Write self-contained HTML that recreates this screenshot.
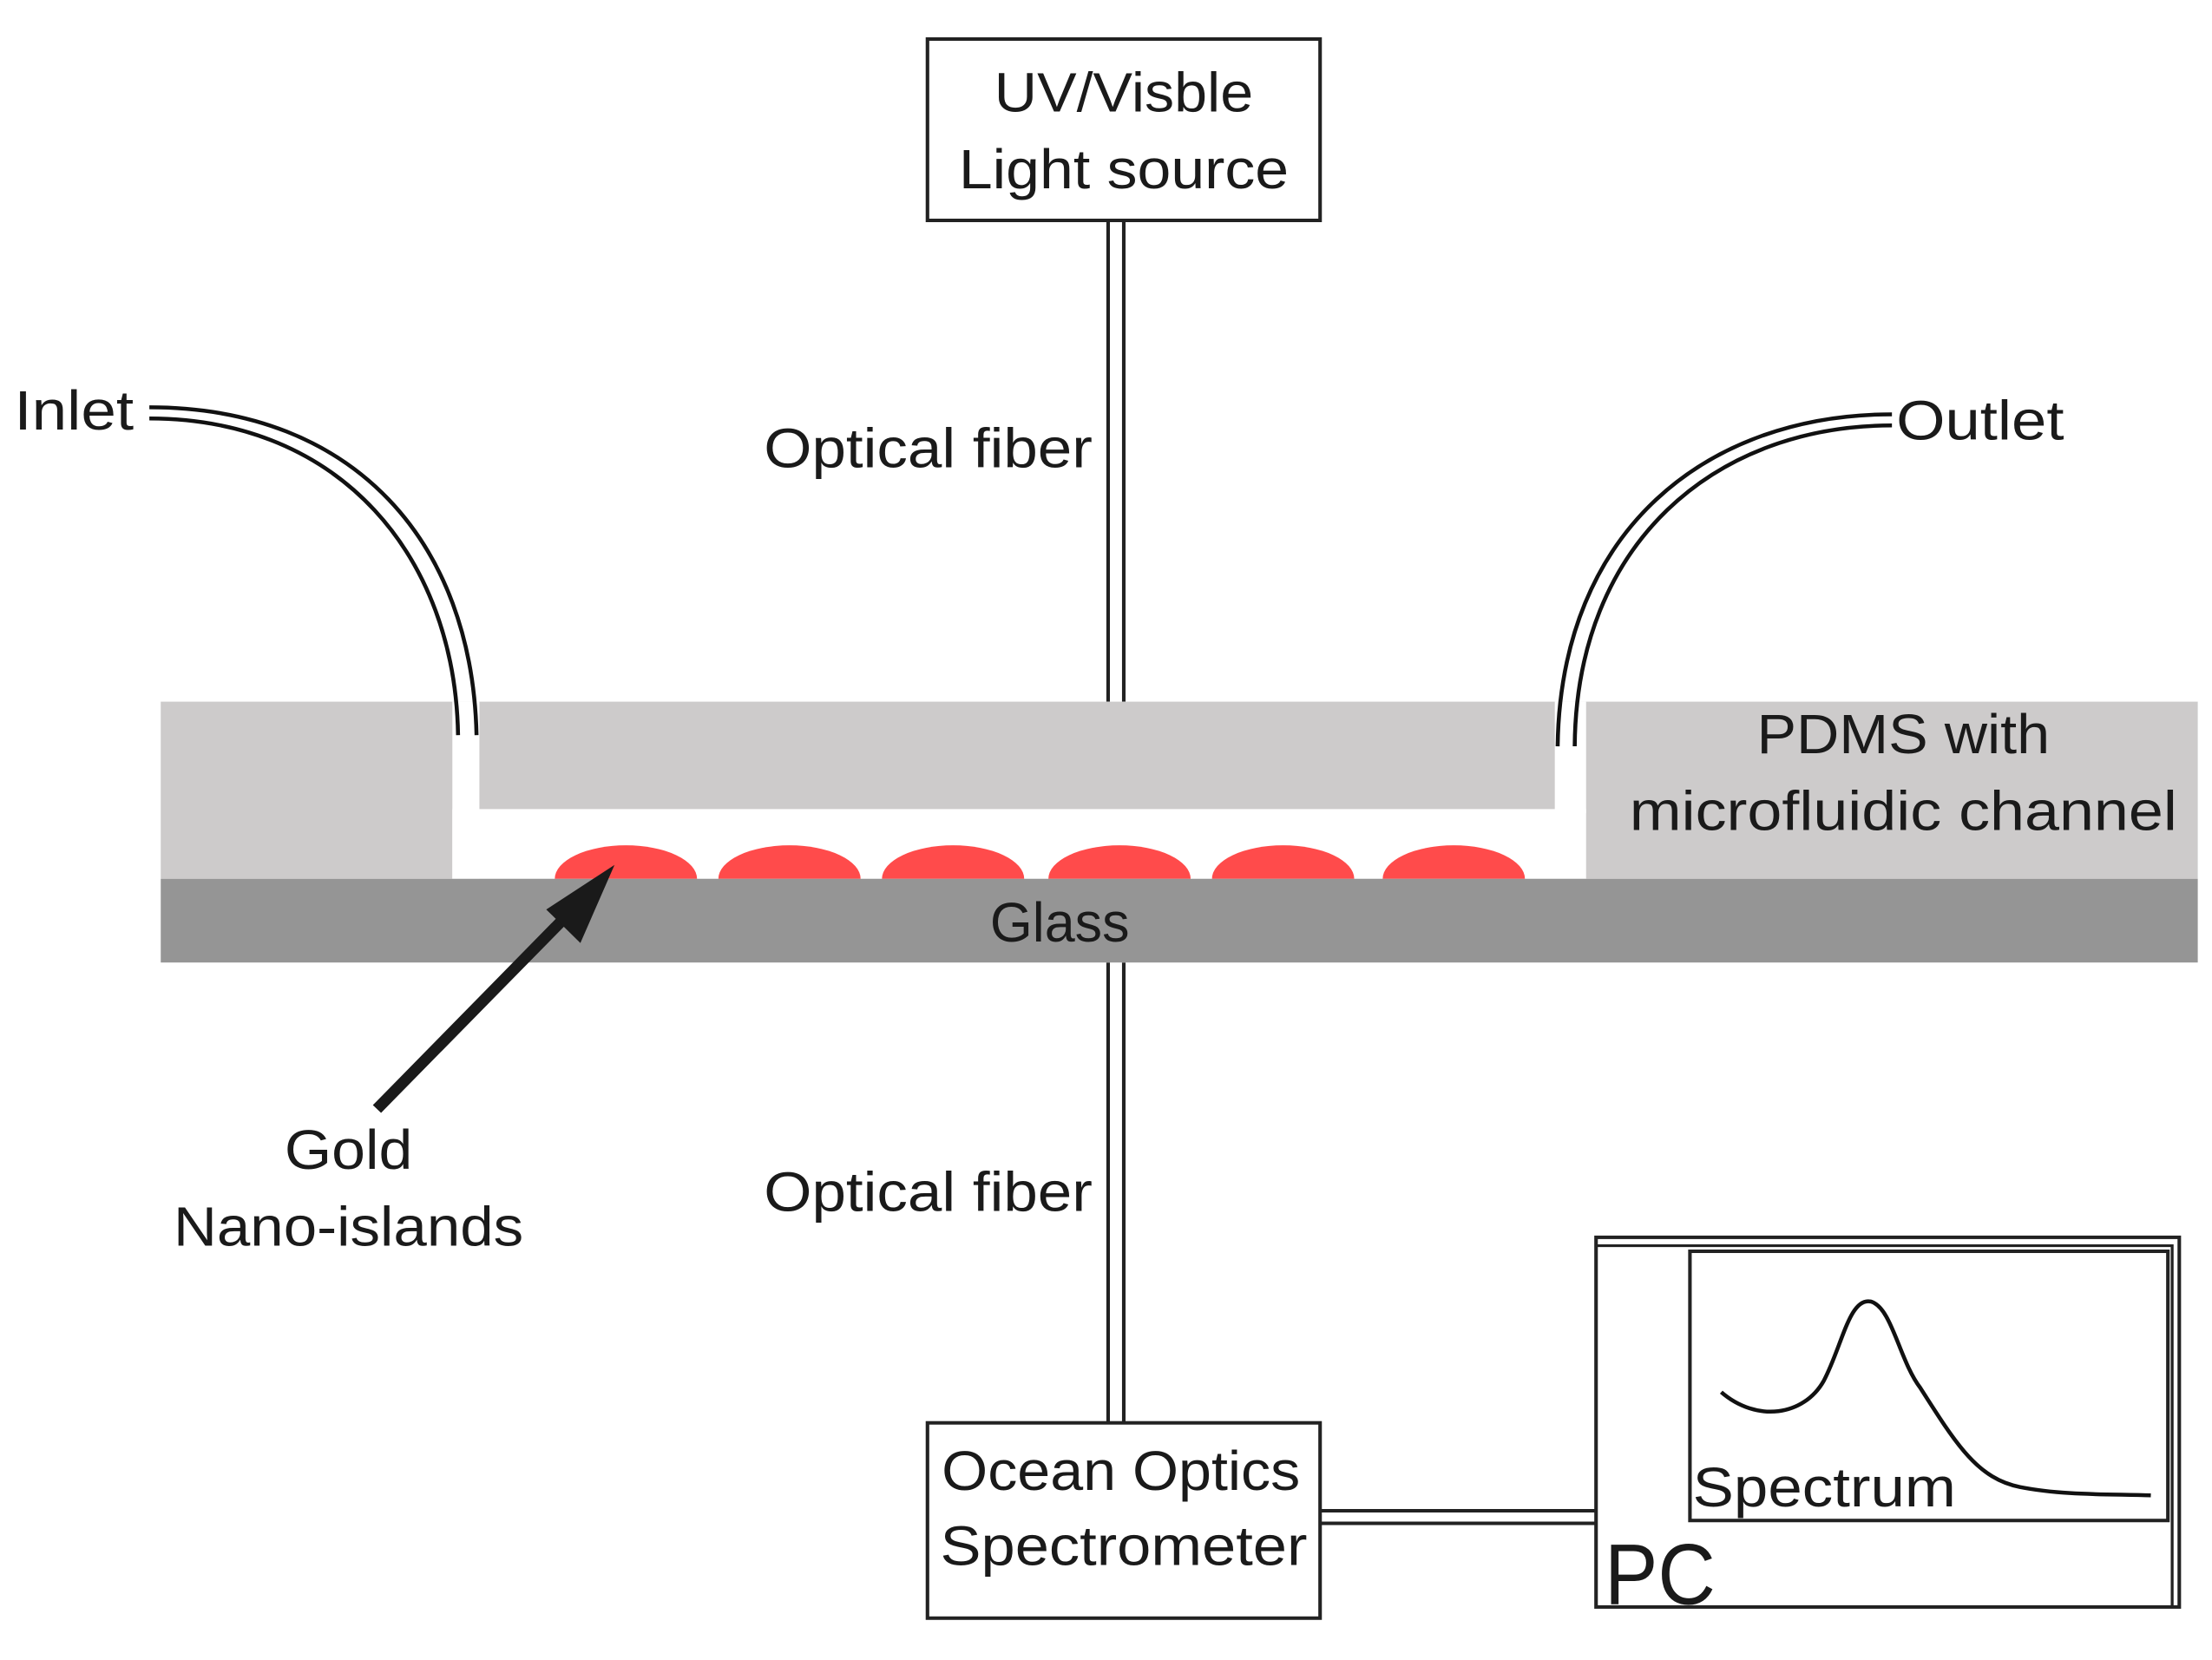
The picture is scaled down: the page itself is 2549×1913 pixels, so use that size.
<!DOCTYPE html>
<html><head><meta charset="utf-8"><style>
html,body{margin:0;padding:0;background:#fff;}
svg{display:block;}
text{font-family:"Liberation Sans",sans-serif;fill:#1a1a1a;}
</style></head><body>
<svg width="2549" height="1913" viewBox="0 0 1555 1190" preserveAspectRatio="none" xmlns="http://www.w3.org/2000/svg">
<rect width="1555" height="1190" fill="#fff"/>
<!-- UV box -->
<rect x="652" y="28" width="276" height="130" fill="#fff" stroke="#222" stroke-width="2.5"/>
<text x="790" y="80" font-size="40" text-anchor="middle" textLength="182" lengthAdjust="spacingAndGlyphs">UV/Visble</text>
<text x="790" y="135" font-size="40" text-anchor="middle" textLength="232" lengthAdjust="spacingAndGlyphs">Light source</text>
<!-- fibers -->
<g stroke="#222" stroke-width="2.5">
<line x1="779" y1="158" x2="779" y2="503"/><line x1="790" y1="158" x2="790" y2="503"/>
<line x1="779" y1="690" x2="779" y2="1020"/><line x1="790" y1="690" x2="790" y2="1020"/>
<line x1="928" y1="1083" x2="1122" y2="1083"/><line x1="928" y1="1092" x2="1122" y2="1092"/>
</g>
<text x="537" y="335" font-size="40" textLength="231" lengthAdjust="spacingAndGlyphs">Optical fiber</text>
<text x="537" y="868" font-size="40" textLength="231" lengthAdjust="spacingAndGlyphs">Optical fiber</text>
<!-- PDMS -->
<rect x="113" y="503" width="1432" height="127" fill="#cdcbcb"/>
<rect x="318" y="503" width="19" height="127" fill="#fff"/>
<rect x="318" y="580" width="797" height="50" fill="#fff"/>
<rect x="1093" y="503" width="22" height="80" fill="#fff"/>
<!-- islands -->
<g fill="#ff4b4b">
<path d="M390 630 A50 24 0 0 1 490 630Z"/>
<path d="M505 630 A50 24 0 0 1 605 630Z"/>
<path d="M620 630 A50 24 0 0 1 720 630Z"/>
<path d="M737 630 A50 24 0 0 1 837 630Z"/>
<path d="M852 630 A50 24 0 0 1 952 630Z"/>
<path d="M972 630 A50 24 0 0 1 1072 630Z"/>
</g>
<!-- glass -->
<rect x="113" y="630" width="1432" height="60" fill="#959595"/>
<text x="745" y="675" font-size="40" text-anchor="middle" textLength="98" lengthAdjust="spacingAndGlyphs">Glass</text>
<text x="1338" y="540" font-size="40" text-anchor="middle" textLength="206" lengthAdjust="spacingAndGlyphs">PDMS with</text>
<text x="1338" y="595" font-size="40" text-anchor="middle" textLength="385" lengthAdjust="spacingAndGlyphs">microfluidic channel</text>
<!-- tubes -->
<g fill="none" stroke="#111" stroke-width="2.8">
<path d="M105 292 C250 292 332 390 335 527"/>
<path d="M105 300 C240 300 320 400 322 527"/>
<path d="M1330 297 C1200 297 1097 380 1095 535"/>
<path d="M1330 305 C1205 305 1108 390 1107 535"/>
</g>
<text x="10" y="308" font-size="40" textLength="84" lengthAdjust="spacingAndGlyphs">Inlet</text>
<text x="1333" y="315" font-size="40" textLength="118" lengthAdjust="spacingAndGlyphs">Outlet</text>
<!-- arrow -->
<line x1="265" y1="795" x2="395" y2="660" stroke="#1a1a1a" stroke-width="8"/>
<polygon points="432,620 408,676 384,652" fill="#1a1a1a"/>
<text x="245" y="838" font-size="40" text-anchor="middle" textLength="90" lengthAdjust="spacingAndGlyphs">Gold</text>
<text x="245" y="893" font-size="40" text-anchor="middle" textLength="246" lengthAdjust="spacingAndGlyphs">Nano-islands</text>
<!-- spectrometer -->
<rect x="652" y="1020" width="276" height="140" fill="#fff" stroke="#222" stroke-width="2.5"/>
<text x="788" y="1068" font-size="40" text-anchor="middle" textLength="252" lengthAdjust="spacingAndGlyphs">Ocean Optics</text>
<text x="790" y="1122" font-size="40" text-anchor="middle" textLength="258" lengthAdjust="spacingAndGlyphs">Spectrometer</text>
<!-- PC -->
<rect x="1122" y="887" width="410" height="265" fill="#fff" stroke="#222" stroke-width="2.5"/>
<polyline points="1122,893 1527,893 1527,1152" fill="none" stroke="#222" stroke-width="2"/>
<rect x="1188" y="897" width="336" height="193" fill="#fff" stroke="#222" stroke-width="2.5"/>
<path d="M1210 998 C1235 1020 1268 1015 1282 990 C1295 965 1300 930 1315 933 C1330 937 1335 975 1350 995 C1375 1035 1390 1060 1420 1066 C1450 1072 1480 1071 1512 1072" fill="none" stroke="#111" stroke-width="2.8"/>
<text x="1190" y="1080" font-size="40" textLength="185" lengthAdjust="spacingAndGlyphs">Spectrum</text>
<text x="1128" y="1150" font-size="62" textLength="78" lengthAdjust="spacingAndGlyphs">PC</text>
</svg>
</body></html>
